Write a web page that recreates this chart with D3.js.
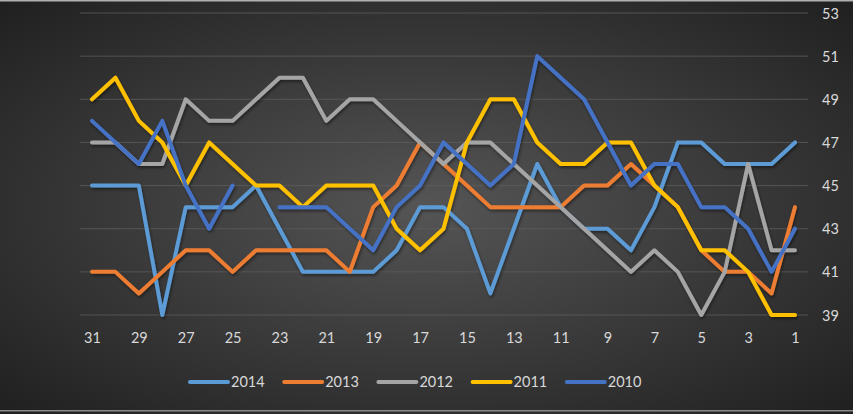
<!DOCTYPE html>
<html><head><meta charset="utf-8">
<script src="https://cdn.jsdelivr.net/npm/d3@7"></script>
<style>html,body{margin:0;padding:0;background:#2a2a2a;}svg{display:block;}</style>
</head><body>
<svg id="c" width="853" height="414"></svg>
<script>
const days = [31,30,29,28,27,26,25,24,23,22,21,20,19,18,17,16,15,14,13,12,11,10,9,8,7,6,5,4,3,2,1];
const xTicks = [31,29,27,25,23,21,19,17,15,13,11,9,7,5,3,1];
const yTicks = [39,41,43,45,47,49,51,53];
const seriesNames = ["2014","2013","2012","2011","2010"];
const colors = ["#5B9BD5","#ED7D31","#A5A5A5","#FFC000","#4472C4"];
const v2014 = [45,45,45,39,44,44,44,45,43,41,41,41,41,42,44,44,43,40,43,46,44,43,43,42,44,47,47,46,46,46,47];
const v2013 = [41,41,40,41,42,42,41,42,42,42,42,41,44,45,47,46,45,44,44,44,44,45,45,46,45,44,42,41,41,40,44];
const v2012 = [47,47,46,46,49,48,48,49,50,50,48,49,49,48,47,46,47,47,46,45,44,43,42,41,42,41,39,41,46,42,42];
const v2011 = [49,50,48,47,45,47,46,45,45,44,45,45,45,43,42,43,47,49,49,47,46,46,47,47,45,44,42,42,41,39,39];
const v2010 = [48,47,46,48,45,43,45,null,44,44,44,43,42,44,45,47,46,45,46,51,50,49,47,45,46,46,44,44,43,41,43];
const values = [v2014,v2013,v2012,v2011,v2010];

const svg = d3.select("#c");
const W = 853, H = 414;
const defs = svg.append("defs");
const rg = defs.append("radialGradient").attr("id","bg")
  .attr("cx","50%").attr("cy","50%").attr("r","70%");
rg.append("stop").attr("offset","0%").attr("stop-color","#555555");
rg.append("stop").attr("offset","100%").attr("stop-color","#202020");
const sh = defs.append("filter").attr("id","sh").attr("x","-5%").attr("y","-5%").attr("width","110%").attr("height","120%");
sh.append("feDropShadow").attr("dx",1).attr("dy",2).attr("stdDeviation",1.5).attr("flood-color","#000").attr("flood-opacity",0.45);

svg.append("rect").attr("width",W).attr("height",H).attr("fill","url(#bg)");
svg.append("rect").attr("x",0).attr("y",0).attr("width",W).attr("height",1.5).attr("fill","#b0b0b0");
svg.append("rect").attr("x",0).attr("y",410).attr("width",W).attr("height",1.5).attr("fill","#8a8a8a");

const x = d3.scalePoint().domain(days).range([92,795]);
const y = d3.scaleLinear().domain([39,53]).range([315,13]);

// gridlines
svg.append("g").selectAll("line").data(yTicks).join("line")
  .attr("x1",80).attr("x2",808)
  .attr("y1",d=>y(d)).attr("y2",d=>y(d))
  .attr("stroke","#5c5c5c").attr("stroke-width",1).attr("opacity",0.8);

const font = "Lato, 'Open Sans', sans-serif";
// y axis right
const yAxis = d3.axisRight(y).tickValues(yTicks).tickSize(0).tickPadding(0);
const gy = svg.append("g").attr("transform","translate(822,0)").call(yAxis);
gy.select(".domain").remove();
gy.selectAll("text").attr("fill","#d9d9d9").attr("font-family",font).attr("font-size",14.5).attr("dy","0.35em");

// x axis
const xAxis = d3.axisBottom(x).tickValues(xTicks).tickSize(0).tickPadding(0);
const gx = svg.append("g").attr("transform","translate(0,333)").call(xAxis);
gx.select(".domain").remove();
gx.selectAll("text").attr("fill","#d9d9d9").attr("font-family",font).attr("font-size",14.5).attr("dy","0.71em");

const line = d3.line().defined(d=>d.v!=null).x(d=>x(d.day)).y(d=>y(d.v));
const lg = svg.append("g").attr("filter","url(#sh)");
seriesNames.forEach((name,i)=>{
  const data = days.map((d,j)=>({day:d, v:values[i][j]}));
  lg.append("path").datum(data).attr("d",line)
    .attr("fill","none").attr("stroke",colors[i]).attr("stroke-width",4)
    .attr("stroke-linejoin","round").attr("stroke-linecap","round");
});

// legend
const leg = svg.append("g");
seriesNames.forEach((name,i)=>{
  const lx = 190 + i*94.2;
  leg.append("line").attr("x1",lx).attr("x2",lx+38).attr("y1",382).attr("y2",382)
    .attr("stroke",colors[i]).attr("stroke-width",4).attr("stroke-linecap","round");
  leg.append("text").attr("x",lx+41).attr("y",382).attr("dy","0.35em")
    .attr("fill","#d9d9d9").attr("font-family",font).attr("font-size",14.5).text(name);
});
</script>
</body></html>
